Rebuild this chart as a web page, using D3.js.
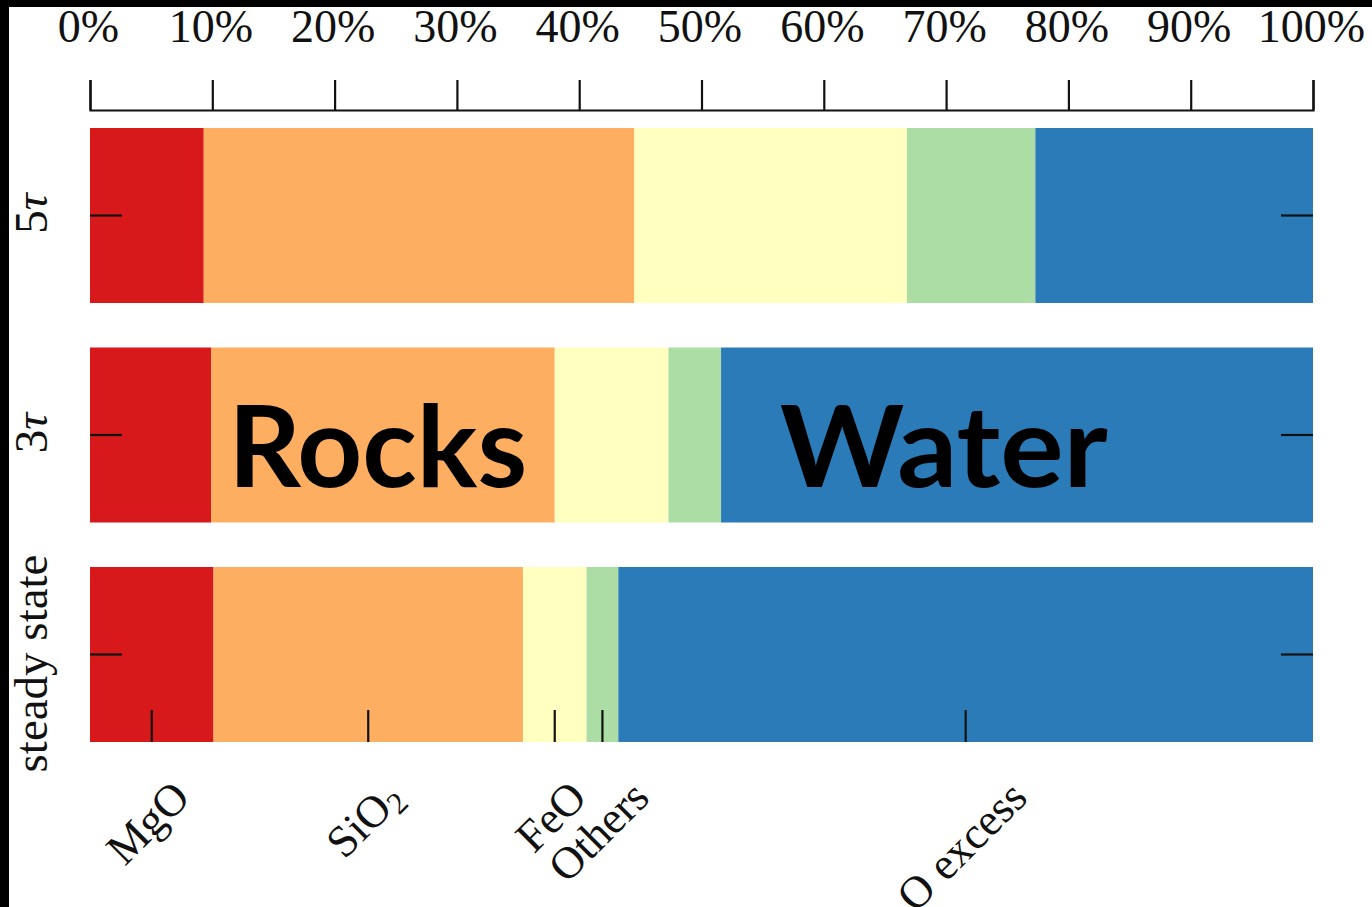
<!DOCTYPE html>
<html>
<head>
<meta charset="utf-8">
<script src="https://cdn.jsdelivr.net/npm/d3@7"></script>
<style>
  html, body { margin: 0; padding: 0; background: #ffffff; }
  svg { display: block; }
</style>
</head>
<body>
<svg id="chart" width="1372" height="907"></svg>
<script>
// Composition of the outgassed material for each stage (percent of total)
const stages = ["5τ", "3τ", "steady state"];
const components = ["MgO", "SiO2", "FeO", "Others", "O excess"];
const mgo     = [9.3, 9.9, 10.1];
const sio2    = [35.2, 28.1, 25.3];
const feo     = [22.3, 9.3, 5.2];
const others  = [10.5, 4.3, 2.6];
const oExcess = [22.7, 48.4, 56.8];
const percentTicks = [0, 10, 20, 30, 40, 50, 60, 70, 80, 90, 100];
const colors = ["#d7191c", "#fdae61", "#ffffbf", "#abdda4", "#2b7bb9"];

// Annotation positions, in percent along the axis
const rocksAt = 11.3;
const waterAt = 56.4;

const table = stages.map((s, i) => ({
  stage: s,
  "MgO": mgo[i], "SiO2": sio2[i], "FeO": feo[i], "Others": others[i], "O excess": oExcess[i]
}));

const svg = d3.select("#chart");
const serif = "'Liberation Serif', 'Times New Roman', serif";

// frame strips along the left and top edges
svg.append("rect").attr("x", 0).attr("y", 0).attr("width", 9).attr("height", 907).attr("fill", "#000");
svg.append("rect").attr("x", 0).attr("y", 0).attr("width", 1372).attr("height", 7).attr("fill", "#000");

const x = d3.scaleLinear().domain([0, 100]).range([90, 1313]);
const y = d3.scaleBand().domain(stages).range([128, 742]).paddingInner(0.2027).paddingOuter(0);

const stack = d3.stack().keys(components);
const series = stack(table);

// stacked bars
svg.append("g").selectAll("g")
  .data(series)
  .join("g")
  .attr("fill", (d, i) => colors[i])
  .selectAll("rect")
  .data(d => d)
  .join("rect")
  .attr("x", d => x(d[0]))
  .attr("y", d => y(d.data.stage))
  .attr("width", d => x(d[1]) - x(d[0]))
  .attr("height", y.bandwidth());

// top percentage axis
const xAxis = d3.axisTop(x)
  .tickValues(percentTicks)
  .tickFormat(d => d + "%")
  .tickSize(30)
  .tickSizeOuter(30)
  .tickPadding(38);
const gx = svg.append("g").attr("transform", "translate(0,110)").call(xAxis);
gx.selectAll("path, line").attr("stroke", "#111").attr("stroke-width", 2.2);
gx.selectAll("text").attr("font-family", serif).attr("font-size", 46).attr("fill", "#111")
  .attr("dx", -2);

// stage ticks on both sides of the bars
const stageTicks = svg.append("g").attr("stroke", "#111").attr("stroke-width", 2.2);
stages.forEach(s => {
  const yc = y(s) + y.bandwidth() / 2;
  stageTicks.append("line").attr("x1", x(0)).attr("x2", x(0) + 32).attr("y1", yc).attr("y2", yc);
  stageTicks.append("line").attr("x1", x(100) - 32).attr("x2", x(100)).attr("y1", yc).attr("y2", yc);
});

// stage labels, rotated along the left edge
const stageLabels = svg.append("g")
  .attr("font-family", serif).attr("font-size", 47).attr("fill", "#111");
stages.forEach(s => {
  const yc = y(s) + y.bandwidth() / 2 + (s === "steady state" ? 9 : -2);
  const t = stageLabels.append("text")
    .attr("transform", `translate(47,${yc}) rotate(-90)`)
    .attr("text-anchor", "middle");
  if (s.endsWith("τ")) {
    t.append("tspan").text(s.slice(0, -1));
    t.append("tspan").attr("font-style", "italic").text("τ");
  } else {
    t.text(s);
  }
});

// component ticks at the centre of each segment in the last bar
const last = stages[stages.length - 1];
const barBottom = y(last) + y.bandwidth();
const compTicks = svg.append("g").attr("stroke", "#111").attr("stroke-width", 2.2);
const compLabels = svg.append("g").attr("font-family", serif).attr("font-size", 45).attr("fill", "#111");
series.forEach((ser, i) => {
  const d = ser[ser.length - 1];
  const cx = x((d[0] + d[1]) / 2);
  compTicks.append("line").attr("x1", cx).attr("x2", cx).attr("y1", barBottom).attr("y2", barBottom - 32);

  const name = components[i];
  const t = compLabels.append("text")
    .attr("text-anchor", "middle")
    .attr("dominant-baseline", "central");
  if (name === "SiO2") {
    t.append("tspan").text("SiO");
    t.append("tspan").attr("font-size", 31).attr("dy", 11).text("2");
  } else {
    t.text(name);
  }
  const len = t.node().getComputedTextLength();
  const span = (len + 40) / Math.SQRT2;
  const top = barBottom + 33;
  t.attr("transform", `translate(${cx - 4},${top + span / 2}) rotate(-45)`);
});

// annotations on the middle bar
const midY = y(stages[1]) + y.bandwidth() / 2 + 52;
const ann = svg.append("g")
  .attr("font-family", "Lato, 'Open Sans', sans-serif")
  .attr("font-weight", "bold")
  .attr("font-size", 113)
  .attr("fill", "#000");
ann.append("text").attr("x", x(rocksAt)).attr("y", midY)
  .attr("textLength", 299).attr("lengthAdjust", "spacingAndGlyphs").text("Rocks");
ann.append("text").attr("x", x(waterAt)).attr("y", midY)
  .attr("textLength", 328).attr("lengthAdjust", "spacingAndGlyphs").text("Water");
</script>
</body>
</html>
